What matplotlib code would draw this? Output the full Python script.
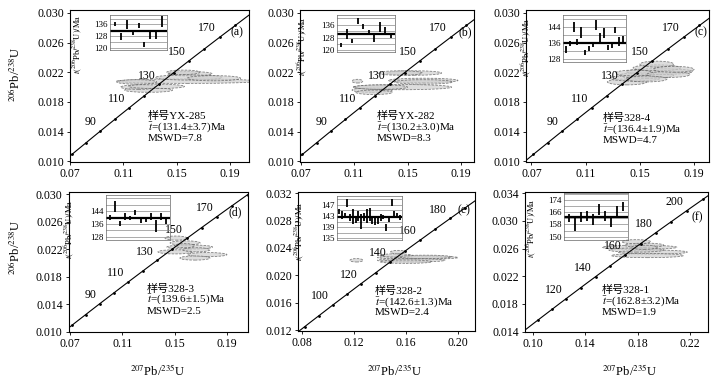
import numpy as np
import matplotlib.pyplot as plt
from matplotlib.patches import Ellipse

plt.rcParams['font.family'] = ['Liberation Serif', 'Noto Sans CJK SC']
plt.rcParams['mathtext.fontset'] = 'stix'

# decay constants (1/a) for the concordia curve
lam238 = 1.55125e-10
lam235 = 9.8485e-10

letters = ['(a)', '(b)', '(c)', '(d)', '(e)', '(f)']
samples = ['YX-285', 'YX-282', '328-4', '328-3', '328-2', '328-1']
mean_age = [131.4, 130.2, 136.4, 139.6, 142.6, 162.8]
mean_err = [3.7, 3.0, 1.9, 1.5, 1.3, 3.2]
mswd = [7.8, 8.3, 4.7, 2.5, 2.4, 1.9]
conc_ages = [[90, 110, 130, 150, 170]] * 4 + [[100, 120, 140, 160, 180],
                                              [120, 140, 160, 180, 200]]

# error ellipses: centre 207Pb/235U, centre 206Pb/238U, half width, half height
ea_x = [0.158, 0.160, 0.159, 0.129, 0.1215, 0.135, 0.120, 0.155, 0.178]
ea_y = [0.0208, 0.0218, 0.0213, 0.0196, 0.0200, 0.0201, 0.0207, 0.0220, 0.0212]
ea_w = [0.053, 0.0166, 0.025, 0.018, 0.0135, 0.021, 0.015, 0.0124, 0.020]
ea_h = [0.0003, 0.0003, 0.00035, 0.0003, 0.0003, 0.0003, 0.0003, 0.0003, 0.00035]

eb_x = [0.1125, 0.155, 0.1617, 0.1235, 0.146, 0.1445, 0.162, 0.130, 0.125]
eb_y = [0.0208, 0.0219, 0.0209, 0.0196, 0.0200, 0.0219, 0.0207, 0.0200, 0.0193]
eb_w = [0.004, 0.0205, 0.026, 0.015, 0.037, 0.0165, 0.0217, 0.020, 0.0137]
eb_h = [0.00025, 0.0003, 0.0003, 0.0003, 0.00035, 0.0003, 0.0003, 0.0003, 0.0003]

ec_x = [0.1405, 0.1465, 0.155, 0.1645, 0.1625, 0.1625, 0.146, 0.171, 0.155, 0.175]
ec_y = [0.0207, 0.0212, 0.0216, 0.0221, 0.0226, 0.0231, 0.0219, 0.0217, 0.0211, 0.0224]
ec_w = [0.0145, 0.0185, 0.020, 0.0245, 0.0175, 0.0125, 0.014, 0.016, 0.015, 0.015]
ec_h = [0.0004, 0.0004, 0.0004, 0.0004, 0.0004, 0.0004, 0.0004, 0.0004, 0.0004, 0.0004]

ed_x = [0.151, 0.158, 0.1615, 0.1505, 0.1667, 0.175, 0.1655, 0.1575]
ed_y = [0.0236, 0.0229, 0.0223, 0.0216, 0.0219, 0.0212, 0.0207, 0.0225]
ed_w = [0.0084, 0.0115, 0.0175, 0.0133, 0.0103, 0.015, 0.0115, 0.0075]
ed_h = [0.0003, 0.0003, 0.0003, 0.0003, 0.0003, 0.0003, 0.0003, 0.0003]

ee_x = [0.1219, 0.169, 0.164, 0.1525, 0.154, 0.160, 0.175]
ee_y = [0.0222, 0.0226, 0.0222, 0.0229, 0.0234, 0.0220, 0.0227]
ee_w = [0.005, 0.031, 0.026, 0.0125, 0.006, 0.020, 0.020]
ee_h = [0.00025, 0.00025, 0.00025, 0.00025, 0.00025, 0.00025, 0.00025]

ef_x = [0.1815, 0.1915, 0.179, 0.185, 0.185, 0.1875, 0.179]
ef_y = [0.0262, 0.0255, 0.0258, 0.0265, 0.0262, 0.0250, 0.0270]
ef_w = [0.0285, 0.0265, 0.021, 0.015, 0.010, 0.0275, 0.011]
ef_h = [0.0003, 0.0003, 0.0003, 0.0003, 0.0003, 0.0003, 0.0003]

# inset: single spot ages (Ma) and half error bars
ia_c = [136.4, 127.8, 135.9, 130.2, 135.0, 122.3, 128.7, 128.7, 137.7]
ia_e = [1.5, 2.5, 3.1, 1.5, 1.8, 1.7, 3.0, 3.0, 3.7]
ib_c = [123.5, 130.0, 126.0, 138.3, 135.0, 131.4, 128.0, 134.4, 132.9, 128.8]
ib_e = [1.3, 3.0, 1.2, 1.7, 1.6, 1.2, 2.7, 3.0, 1.8, 1.3]
ic_c = [133.0, 135.9, 144.3, 136.6, 141.4, 131.4, 133.5, 135.6, 145.1, 138.6,
        141.0, 133.9, 134.6, 142.8, 137.0, 138.2]
ic_e = [1.7, 1.3, 2.5, 1.4, 2.9, 1.3, 1.2, 1.3, 2.5, 2.7, 2.5, 1.3, 1.1, 1.5, 2.3, 1.4]
id_c = [140.2, 146.7, 136.1, 140.6, 139.7, 142.9, 138.2, 138.7, 140.6, 134.5, 140.6, 137.6]
id_e = [1.6, 3.4, 1.6, 1.9, 1.5, 1.6, 1.6, 1.7, 1.9, 3.7, 1.9, 1.5]
ie_c = [144.5, 143.3, 143.3, 147.6, 142.4, 142.7, 141.8, 143.0, 140.9, 142.7, 143.0,
        143.6, 141.2, 141.0, 141.2, 142.4, 142.6, 138.8, 142.0, 147.8, 143.9, 143.2, 142.6]
ie_e = [0.9, 1.5, 0.9, 1.4, 1.2, 2.7, 1.2, 1.8, 2.7, 1.5, 2.4, 2.4, 1.2, 1.3, 1.2,
        1.2, 0.8, 1.2, 1.0, 1.2, 0.9, 0.9, 0.9]
if_c = [162.2, 158.4, 162.7, 163.8, 161.3, 167.8, 163.8, 160.0, 167.0, 169.8]
if_e = [2.7, 4.4, 3.3, 3.3, 3.6, 3.6, 3.3, 3.8, 3.3, 2.7]

ell = [(ea_x, ea_y, ea_w, ea_h), (eb_x, eb_y, eb_w, eb_h), (ec_x, ec_y, ec_w, ec_h),
       (ed_x, ed_y, ed_w, ed_h), (ee_x, ee_y, ee_w, ee_h), (ef_x, ef_y, ef_w, ef_h)]
bars = [(ia_c, ia_e), (ib_c, ib_e), (ic_c, ic_e), (id_c, id_e), (ie_c, ie_e), (if_c, if_e)]

# layout (pixels)
W, H = 711, 379
def box(l, r, t, b):
    return [l / W, 1 - b / H, (r - l) / W, (b - t) / H]

main_boxes = [box(70, 249, 10, 162), box(300, 474, 10, 162), box(526, 709, 10, 162),
              box(69, 248, 192, 332), box(298, 475, 192, 331), box(525, 708, 192, 332)]
inset_boxes = [box(110, 167, 15, 50), box(337, 395, 15, 52), box(563, 626, 15, 62),
               box(106, 170, 195, 240), box(337, 402, 196, 240), box(564, 628, 193, 240)]
xlims = [(0.07, 0.2043), (0.0696, 0.1997), (0.066, 0.201),
         (0.0692, 0.2061), (0.0769, 0.2131), (0.0939, 0.2338)]
ylims = [(0.0099, 0.0304), (0.0099, 0.0304), (0.0099, 0.0304),
         (0.00995, 0.0303), (0.01186, 0.03219), (0.01395, 0.03419)]
xticks = [[0.07, 0.11, 0.15, 0.19]] * 4 + [[0.08, 0.12, 0.16, 0.20], [0.10, 0.14, 0.18, 0.22]]
ystart = [0.010, 0.010, 0.010, 0.010, 0.012, 0.014]
in_ylims = [(118.4, 142.4), (119, 142), (126.7, 150.2), (126, 154), (134.4, 150.2), (147.8, 178.6)]
in_labels = [[120, 128, 136], [120, 128, 136], [128, 136, 144], [128, 136, 144],
             [135, 139, 143, 147], [150, 158, 166, 174]]
in_grid = [np.arange(120, 141, 4), np.arange(120, 141, 4), np.arange(128, 149, 4),
           np.arange(128, 153, 4), np.arange(135, 150, 2), np.arange(150, 179, 4)]
in_lab_xy = [(-0.46, 0.17), (-0.49, 0.14), (-0.47, 0.32), (-0.47, 0.24), (-0.48, 0.2), (-0.40, 0.25)]
txt_xy = [(0.436, [0.305, 0.226, 0.157]), (0.44, [0.305, 0.226, 0.157]), (0.42, [0.29, 0.21, 0.14]),
          (0.436, [0.31, 0.227, 0.148]), (0.435, [0.29, 0.205, 0.13]), (0.42, [0.30, 0.215, 0.14])]
let_xy = [(0.93, 0.855), (0.95, 0.855), (0.956, 0.855), (0.927, 0.857), (0.94, 0.87), (0.94, 0.82)]

fig = plt.figure(figsize=(W / 100, H / 100), dpi=100)

t = np.linspace(1, 300, 600) * 1e6
cx = np.exp(lam235 * t) - 1
cy = np.exp(lam238 * t) - 1
t10 = np.arange(10, 301, 10) * 1e6

for i in range(6):
    ax = fig.add_axes(main_boxes[i])
    ax.plot(cx, cy, color='k', lw=0.8)
    ax.plot(np.exp(lam235 * t10) - 1, np.exp(lam238 * t10) - 1, 'k.', ms=2)
    for a in conc_ages[i]:
        px = np.exp(lam235 * a * 1e6) - 1
        py = np.exp(lam238 * a * 1e6) - 1
        ax.annotate(str(a), (px, py), xytext=(-2.5, 2), textcoords='offset points',
                    ha='right', va='bottom', fontsize=8.5, zorder=5)
    ex, ey, ew, eh = ell[i]
    for k in range(len(ex)):
        ax.add_patch(Ellipse((ex[k], ey[k]), 2 * ew[k], 2 * eh[k], facecolor='#cfcfcf',
                             alpha=0.7, edgecolor='#555555', lw=0.6, linestyle=(0, (3, 1.5))))
    ax.set_xlim(xlims[i])
    ax.set_ylim(ylims[i])
    ax.set_xticks(xticks[i])
    ax.set_xticklabels(['%.2f' % v for v in xticks[i]])
    yt = [ystart[i] + 0.004 * k for k in range(6)]
    ax.set_yticks(yt)
    ax.set_yticklabels(['%.3f' % v for v in yt])
    ax.tick_params(labelsize=8.5, length=2.5, width=0.6, pad=2)
    for s in ax.spines.values():
        s.set_linewidth(0.8)

    tx, tys = txt_xy[i]
    ax.text(tx, tys[0], '样号' + samples[i], transform=ax.transAxes, fontsize=8, va='center')
    ax.text(tx, tys[1], r'$\bar{t}$=(%.1f±%.1f)Ma' % (mean_age[i], mean_err[i]),
            transform=ax.transAxes, fontsize=8, va='center')
    ax.text(tx, tys[2], 'MSWD=%.1f' % mswd[i], transform=ax.transAxes, fontsize=8, va='center')
    ax.text(let_xy[i][0], let_xy[i][1], letters[i], transform=ax.transAxes,
            fontsize=8.5, ha='center', va='center')

    # inset with single spot ages
    ins = fig.add_axes(inset_boxes[i])
    ins.patch.set_alpha(0)
    c, e = bars[i]
    n = len(c)
    idx = np.arange(1, n + 1)
    ins.vlines(idx, np.array(c) - np.array(e), np.array(c) + np.array(e), color='k', lw=1.3)
    ins.axhline(mean_age[i], color='k', lw=1.6)
    ins.set_xlim(0.2, n + 0.8)
    ins.set_ylim(in_ylims[i])
    ins.set_xticks([])
    ins.set_yticks(in_labels[i])
    ins.set_yticks(in_grid[i], minor=True)
    ins.yaxis.grid(True, which='both', color='#8a8a8a', lw=0.5)
    ins.set_axisbelow(True)
    ins.tick_params(axis='y', which='both', length=0, labelsize=6.5, pad=1.5)
    for s in ins.spines.values():
        s.set_linewidth(0.5)
        s.set_color('#666666')
    ins.set_ylabel(r'$t(^{206}\mathrm{Pb}/^{238}\mathrm{U})/\mathrm{Ma}$', fontsize=6)
    ins.yaxis.set_label_coords(*in_lab_xy[i])

ylab = r'$^{206}$Pb/$^{238}$U'
xlab = r'$^{207}$Pb/$^{235}$U'
fig.text(15 / W, 1 - 74 / H, ylab, rotation=90, ha='center', va='center', fontsize=9)
fig.text(15 / W, 1 - 247 / H, ylab, rotation=90, ha='center', va='center', fontsize=9)
for xc in [158, 395, 630]:
    fig.text(xc / W, 1 - 376 / H, xlab, ha='center', va='baseline', fontsize=9)

fig.savefig('out.png', dpi=100)
